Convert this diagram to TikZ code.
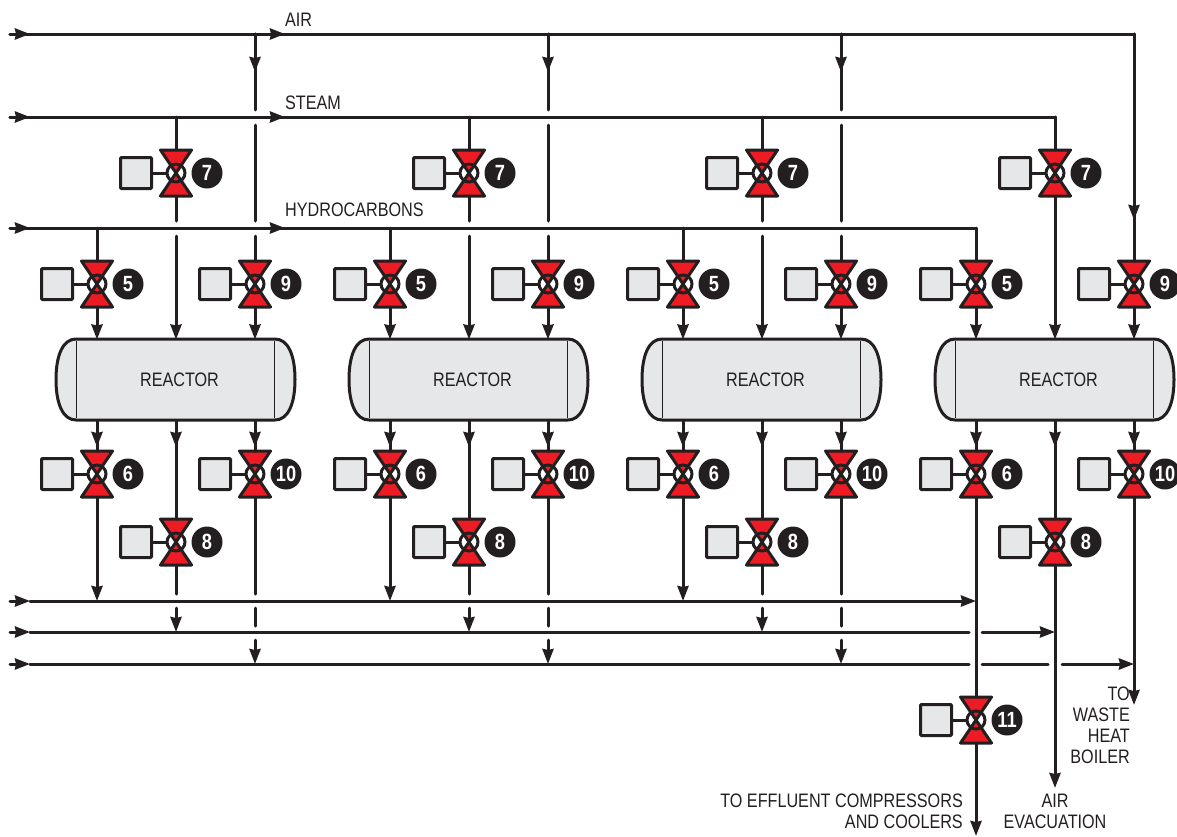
\documentclass[tikz,border=0pt]{standalone}
\usepackage{fontspec}
\setmainfont[FakeStretch=0.83]{Liberation Sans}
\usepackage{tikz}
\usetikzlibrary{arrows.meta}

\definecolor{ink}{HTML}{231F20}
\definecolor{valvered}{HTML}{ED1C24}
\definecolor{panel}{HTML}{E6E7E8}

\tikzset{
    pipe/.style = {line width = 3pt, draw = ink, line cap = round},
    flow/.style = {pipe, -{Stealth[length = 15pt, width = 11pt, inset = 1pt]}},
    vessel/.style = {line width = 3pt, draw = ink, fill = panel},
    reactor/.style = {minimum width = 198pt, minimum height = 81pt, inner sep = 0pt, outer sep = 0pt, text = ink, font = \fontsize{19.5}{21}\selectfont},
    body/.style = {minimum width = 31pt, minimum height = 46pt, inner sep = 0pt, outer sep = 0pt},
    wedge/.style = {line width = 3pt, draw = ink, fill = valvered, line join = round},
    ring/.style = {circle, line width = 3pt, draw = ink, minimum size = 18pt, inner sep = 0pt, outer sep = 0pt},
    actuator/.style = {line width = 3pt, draw = ink, fill = panel, rounded corners = 1pt, minimum size = 31pt, inner sep = 0pt, outer sep = 0pt},
    badge/.style = {circle, fill = ink, text = white, minimum size = 31pt, inner sep = 0pt, font = \fontsize{22}{22}\selectfont\bfseries},
    caption/.style = {text = ink, inner sep = 0pt, font = \fontsize{19.5}{21}\selectfont}
}

% name, x, y, number
\newcommand{\valve}[4]{
    \node[body] (#1) at (#2,#3) {};
    \fill[white] (#1.center) circle (9pt);
    \draw[wedge] (#1.north west) -- (#1.north east) -- (#1.center) -- cycle;
    \draw[wedge] (#1.south west) -- (#1.south east) -- (#1.center) -- cycle;
    \node[ring] (#1-ring) at (#1.center) {};
    \node[actuator] (#1-box) at (#2-40,#3) {};
    \node[badge] (#1-tag) at (#2+31,#3) {#4};
    \draw[line width = 3pt, draw = ink] (#1-box) -- (#1-ring);
}

\begin{document}
\begin{tikzpicture}[x = 1pt, y = -1pt]
    \clip (0,0) rectangle (1177,836);

    % headers and collectors
    \coordinate (airin) at (10,34);
    \coordinate (airmid) at (30,34);
    \coordinate (airtip) at (285,34);
    \coordinate (airend) at (1134,34);
    \coordinate (steamin) at (10,117);
    \coordinate (steammid) at (30,117);
    \coordinate (steamtip) at (285,117);
    \coordinate (steamend) at (1055,117);
    \coordinate (hydroin) at (10,228);
    \coordinate (hydromid) at (30,228);
    \coordinate (hydrotip) at (285,228);
    \coordinate (hydroend) at (976,228);
    \draw[pipe] (airin) -- (airend);
    \draw[flow] (airin) -- (airmid);
    \draw[flow] (airmid) -- (airtip);
    \draw[pipe] (steamin) -- (steamend);
    \draw[flow] (steamin) -- (steammid);
    \draw[flow] (steammid) -- (steamtip);
    \draw[pipe] (hydroin) -- (hydroend);
    \draw[flow] (hydroin) -- (hydromid);
    \draw[flow] (hydromid) -- (hydrotip);

    \coordinate (proin) at (10,601);
    \coordinate (promid) at (30,601);
    \coordinate (proend) at (976,601);
    \coordinate (purgein) at (10,632);
    \coordinate (purgemid) at (30,632);
    \coordinate (purgestop) at (969,632);
    \coordinate (purgego) at (982,632);
    \coordinate (purgeend) at (1055,632);
    \coordinate (ventin) at (10,664);
    \coordinate (ventmid) at (30,664);
    \coordinate (ventstop) at (969,664);
    \coordinate (ventgo) at (982,664);
    \coordinate (ventstopb) at (1048,664);
    \coordinate (ventgob) at (1062,664);
    \coordinate (ventend) at (1134,664);
    \draw[flow] (proin) -- (promid);
    \draw[flow] (promid) -- (proend);
    \draw[flow] (purgein) -- (purgemid);
    \draw[pipe] (purgemid) -- (purgestop);
    \draw[flow] (purgego) -- (purgeend);
    \draw[flow] (ventin) -- (ventmid);
    \draw[pipe] (ventmid) -- (ventstop);
    \draw[pipe] (ventgo) -- (ventstopb);
    \draw[flow] (ventgob) -- (ventend);

    \node[caption, anchor = west] (airlabel) at (285,20) {AIR};
    \node[caption, anchor = west] (steamlabel) at (285,103) {STEAM};
    \node[caption, anchor = west] (hydrolabel) at (285,210) {HYDROCARBONS};

    % the parts every reactor has
    \foreach \i/\x in {1/0, 2/293, 3/586, 4/879} {
        \begin{scope}[xshift = \x]
            \draw[vessel] (76,339) -- (275,339) .. controls (288,339) and (295,355) .. (295,379.5)
                .. controls (295,404) and (288,420) .. (275,420) -- (76,420)
                .. controls (63,420) and (56,404) .. (56,379.5)
                .. controls (56,355) and (63,339) .. (76,339) -- cycle;
            \draw[line width = 1.5pt, draw = ink] (76.5,341) -- (76.5,418);
            \draw[line width = 1.5pt, draw = ink] (274.5,341) -- (274.5,418);
            \node[reactor] (reactor-\i) at (179.5,380) {REACTOR};

            \valve{vseven-\i}{176}{173}{7}
            \valve{vfive-\i}{97}{284}{5}
            \valve{vnine-\i}{255}{284}{9}
            \valve{vsix-\i}{97}{474}{6}
            \valve{vten-\i}{255}{474}{10}
            \valve{veight-\i}{176}{542}{8}

            \draw[flow] (vfive-\i.south) -- (vfive-\i |- reactor-\i.north);
            \draw[flow] (vnine-\i.south) -- (vnine-\i |- reactor-\i.north);

            \coordinate (tipa) at (97,447);
            \coordinate (tipb) at (176,447);
            \coordinate (tipc) at (255,447);
            \draw[pipe] (vsix-\i |- reactor-\i.south) -- (vsix-\i.north);
            \draw[flow] (vsix-\i |- reactor-\i.south) -- (tipa);
            \draw[pipe] (vten-\i |- reactor-\i.south) -- (vten-\i.north);
            \draw[flow] (vten-\i |- reactor-\i.south) -- (tipc);
            \draw[pipe] (veight-\i |- reactor-\i.south) -- (veight-\i.north);
            \draw[flow] (veight-\i |- reactor-\i.south) -- (tipb);
            \draw[pipe] (vseven-\i |- steamin) -- (vseven-\i.north);
        \end{scope}
    }

    % the three upstream trains
    \foreach \i/\x in {1/0, 2/293, 3/586} {
        \begin{scope}[xshift = \x]
            \coordinate (hydrotap) at (97,228);
            \coordinate (airtap) at (255,34);
            \coordinate (airhead) at (255,72);
            \coordinate (steamstop) at (255,110);
            \coordinate (steamgo) at (255,125);
            \coordinate (hydrostop) at (255,221);
            \coordinate (hydrogo) at (255,236);
            \coordinate (sevenstop) at (176,221);
            \coordinate (sevengo) at (176,236);
            \draw[pipe] (hydrotap) -- (vfive-\i.north);
            \draw[pipe] (airtap) -- (steamstop);
            \draw[flow] (airtap) -- (airhead);
            \draw[pipe] (steamgo) -- (hydrostop);
            \draw[pipe] (hydrogo) -- (vnine-\i.north);
            \draw[pipe] (vseven-\i.south) -- (sevenstop);
            \draw[flow] (sevengo) -- (sevengo |- reactor-\i.north);

            \coordinate (eightstop) at (176,594);
            \coordinate (eightgo) at (176,608);
            \coordinate (eightend) at (176,632);
            \coordinate (tenstop) at (255,594);
            \coordinate (tengo) at (255,608);
            \coordinate (tenstopb) at (255,626);
            \coordinate (tengob) at (255,640);
            \coordinate (tenend) at (255,664);
            \coordinate (sixend) at (97,601);
            \draw[flow] (vsix-\i.south) -- (sixend);
            \draw[pipe] (veight-\i.south) -- (eightstop);
            \draw[flow] (eightgo) -- (eightend);
            \draw[pipe] (vten-\i.south) -- (tenstop);
            \draw[pipe] (tengo) -- (tenstopb);
            \draw[flow] (tengob) -- (tenend);
        \end{scope}
    }

    % the last train and the outlets
    \valve{veleven}{976}{720}{11}
    \coordinate (airdown) at (1134,220);
    \coordinate (boilertip) at (1134,705);
    \coordinate (evactip) at (1055,788);
    \coordinate (outtip) at (976,836);
    \draw[pipe] (hydroend) -- (vfive-4.north);
    \draw[pipe] (steamend) -- (vseven-4.north);
    \draw[pipe] (airend) -- (vnine-4.north);
    \draw[flow] (airend) -- (airdown);
    \draw[flow] (vseven-4.south) -- (vseven-4 |- reactor-4.north);
    \draw[pipe] (vsix-4.south) -- (veleven.north);
    \draw[flow] (veleven.south) -- (outtip);
    \draw[flow] (veight-4.south) -- (evactip);
    \draw[flow] (vten-4.south) -- (boilertip);

    \node[caption, anchor = north east, align = right] (boilerlabel) at (1130,687) {TO\\WASTE\\HEAT\\BOILER};
    \node[caption, anchor = north east, align = right] (outlabel) at (963,794) {TO EFFLUENT COMPRESSORS\\AND COOLERS};
    \node[caption, anchor = north, align = center] (evaclabel) at (1055,794) {AIR\\EVACUATION};
\end{tikzpicture}
\end{document}
